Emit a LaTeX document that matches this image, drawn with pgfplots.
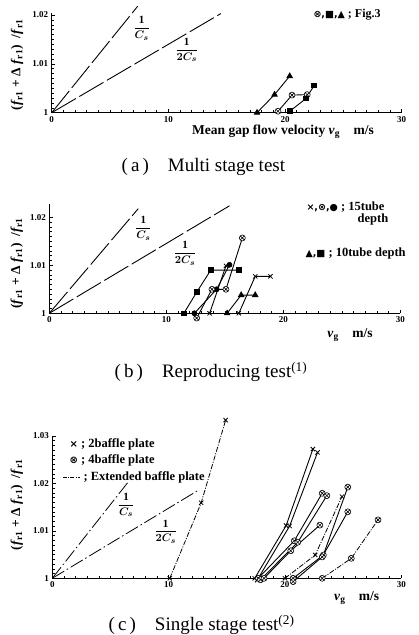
\documentclass[border=0pt]{standalone}
\usepackage{amsmath}
\usepackage{bm}
\usepackage{fontspec}
\setmainfont{Liberation Serif}
\newfontfamily\sym{DejaVu Sans}
\usepackage{pgfplots}
\pgfplotsset{compat=1.18}

\pgfplotsset{
  base/.style={
    scale only axis, axis lines=left, axis line style={-, line width=0.9pt},
    xmin=0, xmax=30, ymin=1,
    xtick={0,10,20,30}, xticklabels={0,10,20,30},
    minor x tick num=9, minor y tick num=9,
    tick align=inside, major tick length=3.5pt, minor tick length=2.2pt,
    every tick/.style={black, line width=0.5pt},
    ticklabel style={font=\bfseries\fontsize{9}{9}\selectfont},
    clip=false,
  },
  ln/.style={black, line width=0.9pt},
  cs/.style={black, line width=0.9pt, dash pattern=on 28pt off 4pt},
  csc/.style={black, line width=0.8pt, dash pattern=on 14pt off 3pt on 1.5pt off 3pt},
  mO/.style={mark=otimes*, mark size=3pt, mark options={solid, fill=white, line width=0.6pt}},
  mS/.style={mark=square*, mark size=2.3pt, mark options={solid, fill=black}},
  mT/.style={mark=triangle*, mark size=3pt, mark options={solid, fill=black}},
  mC/.style={mark=*, mark size=2.4pt, mark options={solid, fill=black}},
  mX/.style={mark=x, mark size=3pt, mark options={solid, line width=0.8pt}},
}
\newcommand{\fr}[1]{{\fontsize{11}{12}\selectfont$\dfrac{\mathbf{1}}{\bm{#1}}$}}
\newcommand{\ylab}{\bfseries\fontsize{13.5}{14}\selectfont (\textit{f}\textsubscript{r1} + Δ \textit{f}\textsubscript{r1})\enspace/\textit{f}\textsubscript{r1}}
\newcommand{\vg}{\textit{v}\textsubscript{g}}

\begin{document}
\begin{tikzpicture}
\useasboundingbox (0pt,0pt) rectangle (418pt,635pt);

% ---------------- (a)
\begin{axis}[base, at={(51.7pt,522.3pt)}, anchor=south west,
  width=350pt, height=100.1pt, ymax=1.0205,
  ytick={1,1.01,1.02}, yticklabels={1,1.01,1.02}]
\addplot[cs] coordinates {(0,1) (7.37,1.0218)};
\addplot[cs] coordinates {(0,1) (14.5,1.0203)};
\addplot[ln, mT] coordinates {(17.6,1.0000) (19.1,1.0037) (20.4,1.0075)};
\addplot[ln, mO] coordinates {(19.4,1.0003) (20.6,1.0036) (21.9,1.0037)};
\addplot[ln, mS] coordinates {(20.4,1.0003) (21.8,1.0029) (22.5,1.0056)};
\end{axis}
\node at (141.7pt,606.7pt) {\fr{C_s}};
\node at (186.7pt,585pt) {\fr{2C_s}};
\node[anchor=west, font=\bfseries\fontsize{12}{13}\selectfont] at (310pt,620pt) {{\sym\fontsize{9.5}{9.5}\selectfont ⊗,■,▲}\ ; Fig.3};
\node[font=\bfseries\fontsize{13.5}{14}\selectfont] at (283pt,503.3pt) {Mean gap flow velocity \vg\quad m/s};
\node[rotate=90] at (17pt,570pt) {\ylab};
\node[anchor=west, font=\fontsize{19}{20}\selectfont] at (118pt,468.3pt) {(\,a\,)\quad Multi stage test};

% ---------------- (b)
\begin{axis}[base, at={(49.3pt,321.7pt)}, anchor=south west,
  width=351pt, height=109.4pt, ymax=1.0228,
  ytick={1,1.01,1.02}, yticklabels={1,1.01,1.02}]
\addplot[cs] coordinates {(0,1) (7.6,1.0218)};
\addplot[cs] coordinates {(0,1) (15.4,1.0224)};
\addplot[ln, mS] coordinates {(11.5,1.0) (12.6,1.0044) (13.8,1.0090) (16.2,1.0090)};
\addplot[ln, mC] coordinates {(12.4,1.0) (14.3,1.0050) (15.4,1.0101)};
\addplot[ln, mO] coordinates {(12.6,0.9990) (13.9,1.0050) (15.1,1.0050) (16.5,1.0157)};
\addplot[ln, mX] coordinates {(13.7,1.0) (15.1,1.0099)};
\addplot[ln, mX] coordinates {(16.2,1.0) (17.6,1.0077) (18.9,1.0077)};
\addplot[ln, mT] coordinates {(15.2,1.0) (16.4,1.0038) (17.6,1.0038)};
\end{axis}
\node at (143.3pt,406.7pt) {\fr{C_s}};
\node at (185pt,381.7pt) {\fr{2C_s}};
\node[anchor=west, font=\bfseries\fontsize{12.5}{13}\selectfont] at (303pt,428.3pt) {{\sym\fontsize{9.5}{9.5}\selectfont ×,⊗,●}\ ; 15tube};
\node[font=\bfseries\fontsize{12.5}{13}\selectfont] at (373pt,415.7pt) {depth};
\node[anchor=west, font=\bfseries\fontsize{12.5}{13}\selectfont] at (302pt,381.7pt) {{\sym\fontsize{9.5}{9.5}\selectfont ▲,■}\ ; 10tube depth};
\node[font=\bfseries\fontsize{13.5}{14}\selectfont] at (350pt,300pt) {\vg\quad m/s};
\node[rotate=90] at (16.7pt,371.7pt) {\ylab};
\node[anchor=west, font=\fontsize{19}{20}\selectfont] at (111pt,263.3pt) {(\,b\,)\quad Reproducing test\textsuperscript{(1)}};

% ---------------- (c)
\begin{axis}[base, at={(52.3pt,56.7pt)}, anchor=south west,
  width=349pt, height=142.5pt, ymax=1.03,
  ytick={1,1.01,1.02,1.03}, yticklabels={1,1.01,1.02,1.03}]
\addplot[csc] coordinates {(0,1) (6.5,1.0202)};
\addplot[csc] coordinates {(0,1) (12.6,1.0186)};
\addplot[black, line width=0.8pt, dash pattern=on 5pt off 1.5pt on 1pt off 1.5pt, mX] coordinates {(10.1,1.0) (12.8,1.0159) (14.9,1.0333)};
\addplot[ln, mX] coordinates {(17.4,1.0) (20.1,1.0111) (22.4,1.0272)};
\addplot[ln, mX] coordinates {(17.6,0.9996) (20.4,1.0110) (22.8,1.0265)};
\addplot[ln, mO] coordinates {(17.7,1.0) (20.8,1.0079) (23.2,1.0179)};
\addplot[ln, mO] coordinates {(17.9,0.9997) (21.1,1.0076) (23.6,1.0174)};
\addplot[ln, mO] coordinates {(18.2,1.0) (20.5,1.0058) (23.0,1.0112)};
\addplot[black, line width=0.8pt, dash pattern=on 5pt off 1.5pt on 1pt off 1.5pt, mX] coordinates {(20.0,1.0) (22.6,1.0049) (24.9,1.0172)};
\addplot[ln, mO] coordinates {(20.7,1.0) (23.3,1.0049) (25.4,1.0192)};
\addplot[ln, mO] coordinates {(20.7,0.9993) (23.2,1.0045) (25.4,1.0140)};
\addplot[black, line width=0.8pt, dash pattern=on 5pt off 1.5pt on 1pt off 1.5pt, mO] coordinates {(23.2,1.0) (25.7,1.0042) (28.0,1.0123)};
\end{axis}
\node at (126pt,130pt) {\fr{C_s}};
\node at (165.7pt,103.3pt) {\fr{2C_s}};
\node[anchor=west, font=\bfseries\fontsize{12.5}{13}\selectfont] at (66pt,190.7pt) {{\sym\fontsize{10}{10}\selectfont ×}\ ; 2baffle plate};
\node[anchor=west, font=\bfseries\fontsize{12.5}{13}\selectfont] at (66pt,175pt) {{\sym\fontsize{10}{10}\selectfont ⊗}\ ; 4baffle plate};
\draw[black, line width=0.8pt, dash pattern=on 4pt off 1.2pt on 1pt off 1.2pt] (63pt,157.3pt) -- (80pt,157.3pt);
\node[anchor=west, font=\bfseries\fontsize{12.5}{13}\selectfont] at (80pt,157.3pt) {; Extended baffle plate};
\node[font=\bfseries\fontsize{13.5}{14}\selectfont] at (356.7pt,36.7pt) {\vg\quad m/s};
\node[rotate=90] at (16.7pt,130pt) {\ylab};
\node[anchor=west, font=\fontsize{19}{20}\selectfont] at (105pt,10pt) {(\,c\,)\quad Single stage test\textsuperscript{(2)}};
\end{tikzpicture}
\end{document}
